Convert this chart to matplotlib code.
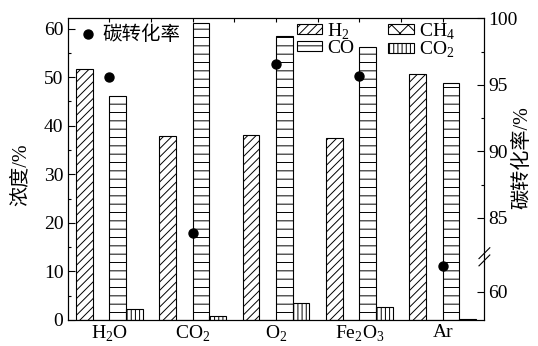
import numpy as np
import matplotlib
matplotlib.use('Agg')
import matplotlib.pyplot as plt
from matplotlib.ticker import MultipleLocator, FixedLocator, FormatStrFormatter

plt.rcParams['font.family'] = ['Liberation Serif', 'Noto Sans CJK SC']
plt.rcParams['mathtext.fontset'] = 'custom'
plt.rcParams['mathtext.rm'] = 'Liberation Serif'
plt.rcParams['hatch.linewidth'] = 0.7

# ---- data ----
categories = ['H$_\\mathregular{2}$O', 'CO$_\\mathregular{2}$', 'O$_\\mathregular{2}$',
              'Fe$_\\mathregular{2}$O$_\\mathregular{3}$', 'Ar']
h2 = [51.6, 37.9, 38.1, 37.4, 50.6]
ch4 = [0.0, 0.0, 0.0, 0.0, 0.0]
co = [46.2, 61.2, 58.4, 56.1, 48.7]
co2 = [2.2, 0.9, 3.6, 2.7, 0.15]
conversion = [95.6, 83.9, 96.6, 95.7, 61.9]
series_labels = ['H$_\\mathregular{2}$', 'CH$_\\mathregular{4}$', 'CO', 'CO$_\\mathregular{2}$']
conv_label = '碳转化率'
left_ylabel = '浓度/%'
right_ylabel = '碳转化率/%'

# ---- broken right-axis scale ----
OFF = 19.46
LO = 62.6
HI = 82.1


def fwd(v):
    v = np.asarray(v, dtype=float)
    mid = (LO + OFF) + (v - LO) * (HI - (LO + OFF)) / (HI - LO)
    return np.where(v <= LO, v + OFF, np.where(v >= HI, v, mid))


def inv(t):
    t = np.asarray(t, dtype=float)
    mid = LO + (t - (LO + OFF)) * (HI - LO) / (HI - (LO + OFF))
    return np.where(t <= LO + OFF, t - OFF, np.where(t >= HI, t, mid))


fig = plt.figure(figsize=(5.38, 3.46), dpi=100)
W, H = 538, 346
ax = fig.add_axes([67.6 / W, 1 - 320 / H, (484.4 - 67.6) / W, (320 - 18.3) / H])

x = np.arange(len(categories))
w = 0.2
series = [h2, ch4, co, co2]
offsets = [-1.5, -0.5, 0.5, 1.5]
hatches = ['////', 'xx', '--', '||||']
bar_handles = []
for vals, off, hat, lab in zip(series, offsets, hatches, series_labels):
    b = ax.bar(x + off * w, vals, w, color='white', edgecolor='black',
               hatch=hat, linewidth=0.8, label=lab)
    bar_handles.append(b)

ax.set_xlim(-0.5, 4.5)
ax.set_ylim(0, 62.1)
ax.set_xticks(x, categories)
ax.xaxis.set_minor_locator(FixedLocator([0.5, 1.5, 2.5, 3.5]))
ax.tick_params(axis='x', which='both', bottom=False, top=True, direction='in',
               length=3, width=0.8, labelsize=14, pad=3)
ax.yaxis.set_major_locator(MultipleLocator(10))
ax.yaxis.set_minor_locator(MultipleLocator(5))
ax.tick_params(axis='y', which='major', direction='in', length=5, width=0.8, labelsize=14, pad=3)
ax.tick_params(axis='y', which='minor', direction='in', length=2.5, width=0.8)
ax.set_ylabel(left_ylabel, fontsize=14.5)
ax.yaxis.set_label_coords(-0.088, 0.48)
for s in ax.spines.values():
    s.set_linewidth(0.8)

ax2 = ax.twinx()
ax2.set_yscale('function', functions=(fwd, inv))
ax2.set_ylim(57.87, 100)
ax2.yaxis.set_major_locator(FixedLocator([60, 85, 90, 95, 100]))
ax2.yaxis.set_major_formatter(FormatStrFormatter('%d'))
ax2.yaxis.set_minor_locator(FixedLocator([87.5, 92.5, 97.5]))
ax2.tick_params(axis='y', which='major', direction='in', length=5, width=0.8, labelsize=14, pad=3)
ax2.tick_params(axis='y', which='minor', direction='in', length=2.5, width=0.8)
ax2.set_ylabel(right_ylabel, fontsize=14.5)
ax2.yaxis.set_label_coords(1.068, 0.54)
for s in ax2.spines.values():
    s.set_linewidth(0.8)

sc = ax2.scatter(x, conversion, s=42, color='black', zorder=5, label=conv_label)

# break mark on right axis
yb = (fwd(LO) + HI) / 2
ybf = (float(yb) - 77.33) / (100 - 77.33)
for dy in (-0.012, 0.012):
    ax2.plot([1 - 0.013, 1 + 0.013], [ybf + dy - 0.018, ybf + dy + 0.018],
             transform=ax2.transAxes, color='black', lw=0.8, clip_on=False)

leg1 = ax2.legend(handles=[sc], loc='upper left', bbox_to_anchor=(-0.006, 1.023),
                  frameon=False, fontsize=14, handletextpad=0.2, borderpad=0.2,
                  handlelength=1.0)
ax2.add_artist(leg1)
order = [bar_handles[0], bar_handles[2], bar_handles[1], bar_handles[3]]
ax2.legend(handles=order, loc='upper left', bbox_to_anchor=(0.518, 1.035), ncol=2,
           frameon=False, fontsize=14, handlelength=1.3, handleheight=0.4,
           handletextpad=0.25, labelspacing=-0.1, columnspacing=1.76, borderpad=0.2)

fig.savefig('out.png', dpi=100)
